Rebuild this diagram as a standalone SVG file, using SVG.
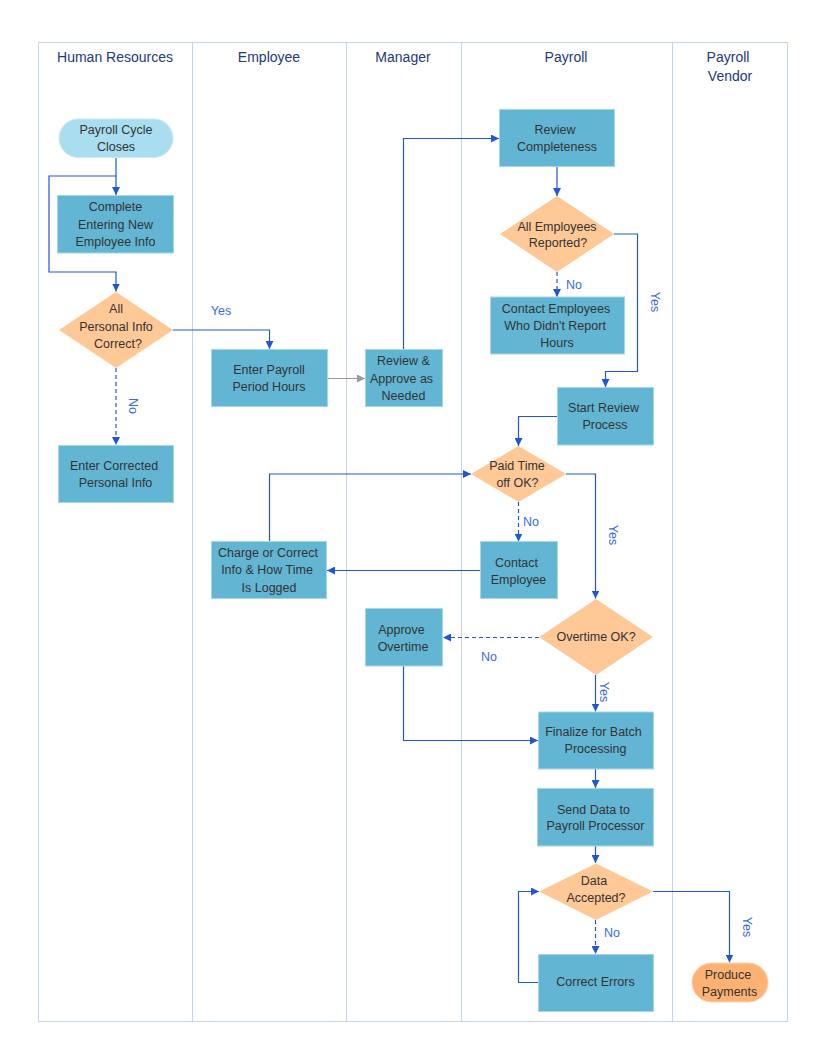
<svg xmlns="http://www.w3.org/2000/svg" width="816" height="1056" viewBox="0 0 816 1056">
<style>
.lane{fill:none;stroke:#c3d3ef;stroke-width:1}
.hdr{font-family:"Liberation Sans",Arial,sans-serif;font-size:14px;fill:#22397a;text-anchor:middle;dominant-baseline:central}
.box{fill:#62b6d3;stroke:#a5d6e9;stroke-width:1}
.dia{fill:#ffc897}
.t{font-family:"Liberation Sans",Arial,sans-serif;font-size:12.5px;fill:#333;text-anchor:middle;dominant-baseline:central}
.c{fill:none;stroke:#1f56d6;stroke-width:1.2}
.d{stroke-dasharray:4 3}
.g{fill:none;stroke:#999;stroke-width:1.2}
.lbl{font-family:"Liberation Sans",Arial,sans-serif;font-size:12.5px;fill:#3a6be0;text-anchor:middle;dominant-baseline:central}
</style>
<defs>
<marker id="a" viewBox="0 0 10 10" refX="10" refY="5" markerWidth="8" markerHeight="8" markerUnits="userSpaceOnUse" orient="auto"><path d="M0,0 L10,5 L0,10 z" fill="#1f56d6"/></marker>
<marker id="ag" viewBox="0 0 10 10" refX="10" refY="5" markerWidth="8" markerHeight="8" markerUnits="userSpaceOnUse" orient="auto"><path d="M0,0 L10,5 L0,10 z" fill="#999"/></marker>
</defs>
<rect width="816" height="1056" fill="#fff"/>
<g id="lanes">
<rect class="lane" x="38.5" y="42.5" width="749" height="979"/>
<line class="lane" x1="192.5" y1="42.5" x2="192.5" y2="1021.5"/>
<line class="lane" x1="346.5" y1="42.5" x2="346.5" y2="1021.5"/>
<line class="lane" x1="461.5" y1="42.5" x2="461.5" y2="1021.5"/>
<line class="lane" x1="672.5" y1="42.5" x2="672.5" y2="1021.5"/>
<text class="hdr" x="115" y="57">Human Resources</text>
<text class="hdr" x="269" y="57">Employee</text>
<text class="hdr" x="403" y="57">Manager</text>
<text class="hdr" x="566" y="57">Payroll</text>
<text class="hdr" x="728" y="57">Payroll</text>
<text class="hdr" x="730" y="76">Vendor</text>
</g>
<g id="connectors">
<path class="c" d="M116,158 V195" marker-end="url(#a)"/>
<path class="c" d="M116,176 H49 V272 H116 V291.5" marker-end="url(#a)"/>
<path class="c" d="M173,330 H269.5 V349" marker-end="url(#a)"/>
<path class="c d" d="M116,368 V445" marker-end="url(#a)"/>
<path class="g" d="M327,378.5 H365" marker-end="url(#ag)"/>
<path class="c" d="M403.5,349 V138.5 H499" marker-end="url(#a)"/>
<path class="c" d="M557,166 V196" marker-end="url(#a)"/>
<path class="c d" d="M557,272 V297" marker-end="url(#a)"/>
<path class="c" d="M614,234 H637.5 V371.5 H605.5 V387" marker-end="url(#a)"/>
<path class="c" d="M557,416.5 H518.5 V446" marker-end="url(#a)"/>
<path class="c" d="M269.5,541.5 V474 H471" marker-end="url(#a)"/>
<path class="c d" d="M518.5,502 V541.5" marker-end="url(#a)"/>
<path class="c" d="M480,570.5 H327" marker-end="url(#a)"/>
<path class="c" d="M566,474 H595.5 V598.5" marker-end="url(#a)"/>
<path class="c d" d="M539,637.5 H443" marker-end="url(#a)"/>
<path class="c" d="M403.5,666 V740.5 H538" marker-end="url(#a)"/>
<path class="c" d="M595.5,675 V711.5" marker-end="url(#a)"/>
<path class="c" d="M595.5,769 V788" marker-end="url(#a)"/>
<path class="c" d="M595.5,846 V863" marker-end="url(#a)"/>
<path class="c d" d="M595.5,920 V954" marker-end="url(#a)"/>
<path class="c" d="M538,982.5 H518.5 V891.5 H539" marker-end="url(#a)"/>
<path class="c" d="M653,891.5 H729.5 V962.5" marker-end="url(#a)"/>
<text class="lbl" x="221" y="311">Yes</text>
<text class="lbl" transform="translate(133,406) rotate(90)">No</text>
<text class="lbl" x="574" y="285">No</text>
<text class="lbl" transform="translate(655,302) rotate(90)">Yes</text>
<text class="lbl" x="531" y="522">No</text>
<text class="lbl" transform="translate(613,535) rotate(90)">Yes</text>
<text class="lbl" x="489" y="657">No</text>
<text class="lbl" transform="translate(604,692) rotate(90)">Yes</text>
<text class="lbl" x="612" y="933">No</text>
<text class="lbl" transform="translate(747,927) rotate(90)">Yes</text>
</g>
<g id="n1"><rect x="59" y="119" width="114" height="38.5" rx="19.25" fill="#a8def0" stroke="#c8ebf6"/><text class="t" x="116" y="130">Payroll Cycle</text><text class="t" x="116" y="147.3">Closes</text></g>
<g id="n2"><rect class="box" x="57.5" y="195.5" width="116" height="57.5"/><text class="t" x="115.5" y="207">Complete</text><text class="t" x="115.5" y="224.7">Entering New</text><text class="t" x="115.5" y="242">Employee Info</text></g>
<g id="n3"><polygon class="dia" points="116,292 173,330 116,368 59,330"/><text class="t" x="116" y="309.3">All</text><text class="t" x="116" y="326.7">Personal Info</text><text class="t" x="118" y="344">Correct?</text></g>
<g id="n4"><rect class="box" x="211.5" y="349.5" width="116" height="57"/><text class="t" x="269" y="370">Enter Payroll</text><text class="t" x="269" y="387.3">Period Hours</text></g>
<g id="n5"><rect class="box" x="365.5" y="349.5" width="77" height="57"/><text class="t" x="403.5" y="361">Review &amp;</text><text class="t" x="401.5" y="378.7">Approve as</text><text class="t" x="403.5" y="396">Needed</text></g>
<g id="n6"><rect class="box" x="58.5" y="445.5" width="115" height="57"/><text class="t" x="114" y="466">Enter Corrected</text><text class="t" x="115.5" y="483.3">Personal Info</text></g>
<g id="n7"><rect class="box" x="499.5" y="109.5" width="115" height="57"/><text class="t" x="555" y="130">Review</text><text class="t" x="557" y="147.3">Completeness</text></g>
<g id="n8"><polygon class="dia" points="557,196 614,234 557,272 500,234"/><text class="t" x="557" y="226.7">All Employees</text><text class="t" x="558" y="243.3">Reported?</text></g>
<g id="n9"><rect class="box" x="490.5" y="297" width="134" height="57"/><text class="t" x="556" y="308.7">Contact Employees</text><text class="t" x="555" y="325.7">Who Didn't Report</text><text class="t" x="557" y="343.3">Hours</text></g>
<g id="n10"><rect class="box" x="557.5" y="387.5" width="96" height="57.5"/><text class="t" x="603.5" y="408">Start Review</text><text class="t" x="605" y="425">Process</text></g>
<g id="n11"><polygon class="dia" points="518.5,446 566,474 518.5,502 471,474"/><text class="t" x="517" y="466">Paid Time</text><text class="t" x="517.5" y="483">off OK?</text></g>
<g id="n12"><rect class="box" x="480.5" y="541.5" width="77" height="57"/><text class="t" x="516.5" y="562.7">Contact</text><text class="t" x="518.5" y="579.7">Employee</text></g>
<g id="n13"><rect class="box" x="211.5" y="541.5" width="115" height="57"/><text class="t" x="268" y="553.3">Charge or Correct</text><text class="t" x="267" y="570.3">Info &amp; How Time</text><text class="t" x="269" y="588">Is Logged</text></g>
<g id="n14"><polygon class="dia" points="596,599 653,637 596,675 539,637"/><text class="t" x="596" y="637">Overtime OK?</text></g>
<g id="n15"><rect class="box" x="365.5" y="608.5" width="77" height="57.5"/><text class="t" x="401.5" y="630">Approve</text><text class="t" x="403" y="646.7">Overtime</text></g>
<g id="n16"><rect class="box" x="538.5" y="712" width="115" height="57"/><text class="t" x="593.5" y="732.3">Finalize for Batch</text><text class="t" x="595.5" y="749.3">Processing</text></g>
<g id="n17"><rect class="box" x="537.5" y="788.5" width="116" height="57.5"/><text class="t" x="593.5" y="809.7">Send Data to</text><text class="t" x="595.5" y="826.3">Payroll Processor</text></g>
<g id="n18"><polygon class="dia" points="596,863.5 653,891.5 596,920 539,891.5"/><text class="t" x="594" y="881.3">Data</text><text class="t" x="596" y="898.3">Accepted?</text></g>
<g id="n19"><rect class="box" x="538.5" y="954.5" width="115" height="57"/><text class="t" x="595.5" y="982.3">Correct Errors</text></g>
<g id="n20"><rect x="692" y="963" width="76" height="39" rx="19.5" fill="#fdb274" stroke="#fdd2ae"/><text class="t" x="728" y="975.3">Produce</text><text class="t" x="729.5" y="992.3">Payments</text></g>
</svg>
